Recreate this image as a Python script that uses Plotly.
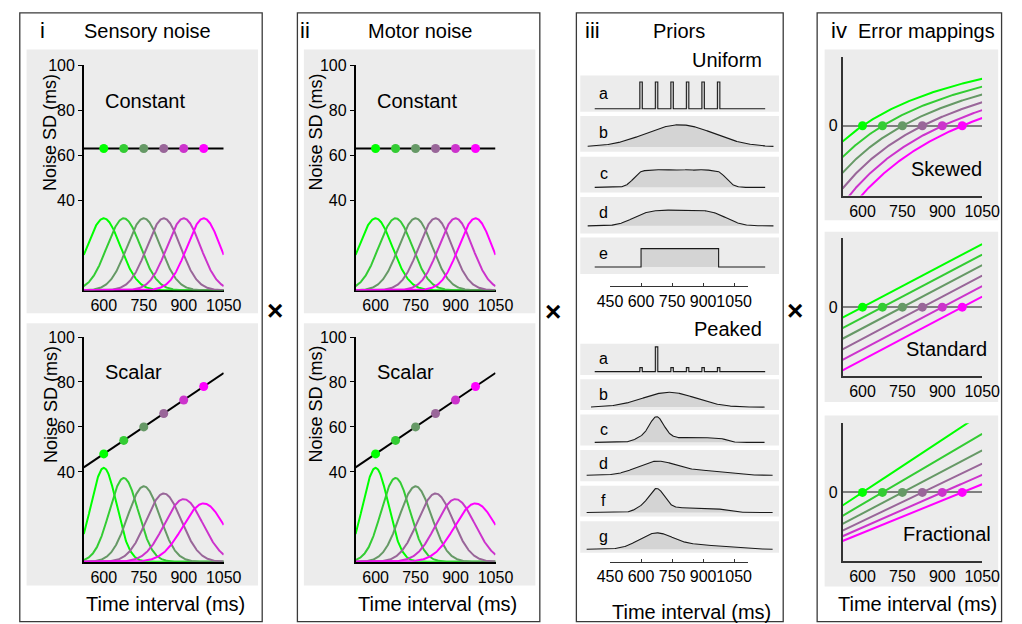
import numpy as np
import plotly.graph_objects as go

W, H = 1022, 624
FONT = "Arial, Liberation Sans, sans-serif"

# ---------------- data ----------------
intervals = [600, 675, 750, 825, 900, 975]
series_colors = ['#00ff00', '#33cc33', '#669966', '#996699', '#cc33cc', '#ff00ff']

constant_sd = [63, 63, 63, 63, 63, 63]
constant_peak = [32, 32, 32, 32, 32, 32]
scalar_sd = [48, 54, 60, 66, 72, 78]
scalar_peak = [41.8, 37.3, 33.6, 30.4, 27.9, 26.0]
constant_line_x = [525, 1050]
constant_line_y = [63, 63]
scalar_line_x = [525, 1050]
scalar_line_y = [42, 84]

sd_ticks = [40, 60, 80, 100]
time_ticks = [600, 750, 900, 1050]
prior_ticks = [450, 600, 750, 900, 1050]

uniform_weights = [1, 1, 1, 1, 1, 1]
peaked_weights = [1, 6.25, 1, 1, 1, 1]

uniform_labels = ['a', 'b', 'c', 'd', 'e']
uniform_models = [
    ('spikes', uniform_weights, None),
    ('gauss', 787, 165),
    ('mix', uniform_weights, 38),
    ('mix', uniform_weights, 65),
    ('box', 600, 975),
]
uniform_extent = [(376, 1200), (342, 1240), (376, 1200), (342, 1240), (376, 1200)]

peaked_labels = ['a', 'b', 'c', 'd', 'f', 'g']
peaked_models = [
    ('spikes', peaked_weights, None),
    ('gauss', 736, 128),
    ('mix', peaked_weights, 35),
    ('mix', peaked_weights, 85),
    ('mixscalar', peaked_weights, 0.055),
    ('mixscalar', peaked_weights, 0.11),
]
peaked_extent = [(376, 1200), (358, 1197), (376, 1197), (337, 1236), (337, 1236), (337, 1236)]

error_ranges = {'Skewed': [-0.636, 0.624], 'Standard': [-490, 493], 'Fractional': [-0.65, 0.656]}

# ---------------- helpers ----------------
def fx(p):
    return p / W

def fy(p):
    return 1 - p / H

fig = go.Figure()
layout = dict(width=W, height=H, margin=dict(l=0, r=0, t=0, b=0),
              paper_bgcolor='white', plot_bgcolor='rgba(0,0,0,0)',
              showlegend=False, font=dict(family=FONT, color='black'))
shapes = []
annotations = []
naxes = [0]

def new_axes(xpx, ypx, xrange, yrange, xkw=None, ykw=None):
    naxes[0] += 1
    n = naxes[0]
    sx = '' if n == 1 else str(n)
    base = dict(showgrid=False, zeroline=False, showline=False, showticklabels=False,
                ticks='', fixedrange=True, tickangle=0)
    xd = dict(base, domain=[fx(xpx[0]), fx(xpx[1])], range=xrange, anchor='y' + sx)
    yd = dict(base, domain=[fy(ypx[1]), fy(ypx[0])], range=yrange, anchor='x' + sx)
    if xkw:
        xd.update(xkw)
    if ykw:
        yd.update(ykw)
    layout['xaxis' + sx] = xd
    layout['yaxis' + sx] = yd
    return 'x' + sx, 'y' + sx

def rect(x0, y0, x1, y1, fill=None, line=None, lw=1.0, layer='below'):
    shapes.append(dict(type='rect', xref='paper', yref='paper',
                       x0=fx(x0), x1=fx(x1), y0=fy(y1), y1=fy(y0),
                       fillcolor=fill if fill else 'rgba(0,0,0,0)',
                       line=dict(color=line if line else 'rgba(0,0,0,0)', width=lw if line else 0),
                       layer=layer))

def text(x, y, s, size=20, xanchor='center', angle=0, bold=False):
    annotations.append(dict(xref='paper', yref='paper', x=fx(x), y=fy(y), text=('<b>%s</b>' % s) if bold else s,
                            showarrow=False, xanchor=xanchor, yanchor='middle', textangle=angle,
                            font=dict(size=size, family=FONT, color='black')))

def gauss(x, m, s):
    return np.exp(-(x - m) ** 2 / (2.0 * s ** 2))

GRAY_BG = '#ececec'
BORDER = '#3a3a3a'

# ---------------- panel borders & backgrounds ----------------
rect(7, 5, 257, 621.5, line=BORDER, lw=1.3)
rect(293.3, 5, 543.3, 621.5, line=BORDER, lw=1.3)
rect(581, 5, 794.3, 621.5, line=BORDER, lw=1.3)
rect(829.3, 5, 1019.5, 621.5, line=BORDER, lw=1.3)

for off in (0, 286):
    rect(14 + off, 42, 252.7 + off, 309.3, fill=GRAY_BG)
    rect(14 + off, 319.3, 252.7 + off, 585, fill=GRAY_BG)

rect(837, 42, 1016, 215, fill=GRAY_BG)
rect(837, 226.7, 1016, 399, fill=GRAY_BG)
rect(837, 412.7, 1016, 586, fill=GRAY_BG)

# ---------------- panels i & ii ----------------
t = np.linspace(525, 1050, 400)
xkw_noise = dict(showline=True, linecolor='black', linewidth=1.5, showticklabels=True,
                 tickvals=time_ticks, tickfont=dict(size=16), layer='below traces')
ykw_noise = dict(showline=True, linecolor='black', linewidth=1.5, showticklabels=True,
                 tickvals=sd_ticks, ticks='outside', ticklen=4, tickcolor='black',
                 tickfont=dict(size=16))

panel_specs = [
    (0, 38.7, 'Sensory noise', 138.7, 30, 'i'),
    (280.3, 312.5, 'Motor noise', 420, 301, 'ii'),
]
for xoff, ylab_x, title, title_x, tag_x, tag in panel_specs:
    text(tag_x, 23, tag, size=22)
    text(title_x, 23, title, size=20)
    text(157 + xoff, 603.3, 'Time interval (ms)', size=20)
    for (ypx, sds, peaks, lx, ly, name, name_y, ylab_y) in [
        ((58, 286), constant_sd, constant_peak, constant_line_x, constant_line_y, 'Constant', 94, 126),
        ((333.3, 561), scalar_sd, scalar_peak, scalar_line_x, scalar_line_y, 'Scalar', 369, 401.7),
    ]:
        xa, ya = new_axes((73 + xoff, 217.3 + xoff), ypx, [525, 1050], [0, 100], xkw_noise, ykw_noise)
        for m, s, pk, c in zip(intervals, sds, peaks, series_colors):
            fig.add_trace(go.Scatter(x=t, y=pk * gauss(t, m, s), mode='lines', xaxis=xa, yaxis=ya,
                                     line=dict(color=c, width=2), hoverinfo='skip'))
        fig.add_trace(go.Scatter(x=lx, y=ly, mode='lines', xaxis=xa, yaxis=ya,
                                 line=dict(color='black', width=2), hoverinfo='skip'))
        ydots = [np.interp(v, lx, ly) for v in intervals]
        fig.add_trace(go.Scatter(x=intervals, y=ydots, mode='markers', xaxis=xa, yaxis=ya,
                                 marker=dict(color=series_colors, size=9), cliponaxis=False))
        text(93 + xoff, name_y, name, size=20, xanchor='left')
        text(ylab_x, ylab_y, 'Noise SD (ms)', size=18, angle=-90)

# ---------------- panel iii: priors ----------------
PX450, PX_PER_MS = 615.7, 128.0 / 600.0
def ms_at(px):
    return 450 + (px - PX450) / PX_PER_MS

ROW_X = (585, 790)
uniform_rows_px = [  # (gray top, gray bottom, baseline, peak)
    (68.3, 105, 102.0, 75.0),
    (109.3, 145.7, 140.7, 118.3),
    (150.7, 187, 181.7, 163.8),
    (191.5, 228.5, 220.7, 204.7),
    (232.5, 269.5, 262.3, 243.7),
]
peaked_rows_px = [
    (340, 371.7, 368.3, 343.3),
    (376, 407.3, 404.3, 389.3),
    (411.7, 443.3, 440.0, 414.0),
    (447.7, 479.3, 473.3, 459.0),
    (484, 515, 511.0, 486.7),
    (520, 551.7, 548.3, 531.7),
]

def model_curve(model, extent):
    kind, p1, p2 = model
    if kind == 'spikes':
        hw = 6
        xs, ys = [extent[0]], [0.0]
        for m, w in zip(intervals, p1):
            xs += [m - hw, m - hw, m + hw, m + hw]
            ys += [0, w, w, 0]
        xs.append(extent[1]); ys.append(0.0)
        ys = np.array(ys, float)
        return np.array(xs, float), ys / ys.max()
    if kind == 'box':
        xs = np.array([extent[0], p1, p1, p2, p2, extent[1]], float)
        ys = np.array([0, 0, 1, 1, 0, 0], float)
        return xs, ys
    x = np.linspace(extent[0], extent[1], 500)
    if kind == 'gauss':
        y = gauss(x, p1, p2)
    elif kind == 'mix':
        y = sum(w * gauss(x, m, p2) for m, w in zip(intervals, p1))
    else:  # scalar widths
        y = sum(w / (p2 * m) * gauss(x, m, p2 * m) for m, w in zip(intervals, p1))
    return x, y / y.max()

def prior_block(labels, models, extents, rows_px, axis_y, title, title_y):
    text(775, title_y, title, size=20, xanchor='right')
    for lab, model, ext, (top, bot, base, peak) in zip(labels, models, extents, rows_px):
        rect(ROW_X[0], top, ROW_X[1], bot, fill=GRAY_BG)
        d_top, d_bot = top, base + 2
        scale = 1.0 / (base - peak)
        yr = [-(d_bot - base) * scale, (base - d_top) * scale]
        xr = [ms_at(ROW_X[0]), ms_at(ROW_X[1])]
        xa, ya = new_axes(ROW_X, (d_top, d_bot), xr, yr)
        xs, ys = model_curve(model, ext)
        fig.add_trace(go.Scatter(x=xs, y=ys, mode='lines', fill='tozeroy', fillcolor='#d4d4d4',
                                 line=dict(color='#1a1a1a', width=1.1), xaxis=xa, yaxis=ya,
                                 hoverinfo='skip'))
        text(609, top + 0.5 * (base - top) + 1, lab, size=16)
    xa, ya = new_axes((PX450, PX450 + (1118 - 450) * PX_PER_MS), (axis_y - 12, axis_y), [450, 1118], [0, 1],
                      dict(showline=True, linecolor='#333', linewidth=1, ticks='inside', ticklen=3,
                           tickcolor='#333', tickvals=prior_ticks, showticklabels=True,
                           tickfont=dict(size=16), tickangle=0))
    fig.add_trace(go.Scatter(x=[450], y=[-5], mode='markers', xaxis=xa, yaxis=ya,
                             marker=dict(size=1, color='rgba(0,0,0,0)'), hoverinfo='skip'))

text(598, 23, 'iii', size=22)
text(687, 23, 'Priors', size=20)
prior_block(uniform_labels, uniform_models, uniform_extent, uniform_rows_px, 282, 'Uniform', 53)
prior_block(peaked_labels, peaked_models, peaked_extent, peaked_rows_px, 560.7, 'Peaked', 325)
text(700, 611.7, 'Time interval (ms)', size=20)

# ---------------- panel iv: error mappings ----------------
text(851.7, 23, 'iv', size=22)
text(941.7, 23, 'Error mappings', size=20)
text(933, 603.3, 'Time interval (ms)', size=20)

te = np.linspace(525, 1050, 300)
mappings = [
    ('Skewed', (50, 190), lambda tp, ts: (tp - ts) / tp, 163),
    ('Standard', (233, 372.7), lambda tp, ts: tp - ts, 345),
    ('Fractional', (420.7, 560), lambda tp, ts: (tp - ts) / ts, 533),
]
for name, ypx, fn, lab_y in mappings:
    xa, ya = new_axes((855.5, 999.5), ypx, [525, 1050], error_ranges[name],
                      dict(showline=True, linecolor='#333', linewidth=1.5, showticklabels=True,
                           tickvals=time_ticks, tickfont=dict(size=16)),
                      dict(showline=True, linecolor='#333', linewidth=1.5, showticklabels=True,
                           tickvals=[0], tickfont=dict(size=16), zeroline=True,
                           zerolinecolor='#7f7f7f', zerolinewidth=2))
    for ts, c in zip(intervals, series_colors):
        fig.add_trace(go.Scatter(x=te, y=fn(te, ts), mode='lines', xaxis=xa, yaxis=ya,
                                 line=dict(color=c, width=2), hoverinfo='skip'))
    fig.add_trace(go.Scatter(x=intervals, y=[0] * len(intervals), mode='markers', xaxis=xa, yaxis=ya,
                             marker=dict(color=series_colors, size=9), cliponaxis=False))
    text(963, lab_y, name, size=20)

# ---------------- multiplication signs ----------------
for xx, yy in [(270.7, 306.7), (557.3, 307), (806.7, 306)]:
    text(xx, yy, '×', size=28, bold=True)

layout['shapes'] = shapes
layout['annotations'] = annotations
fig.update_layout(**layout)
fig.write_html('out.html')
